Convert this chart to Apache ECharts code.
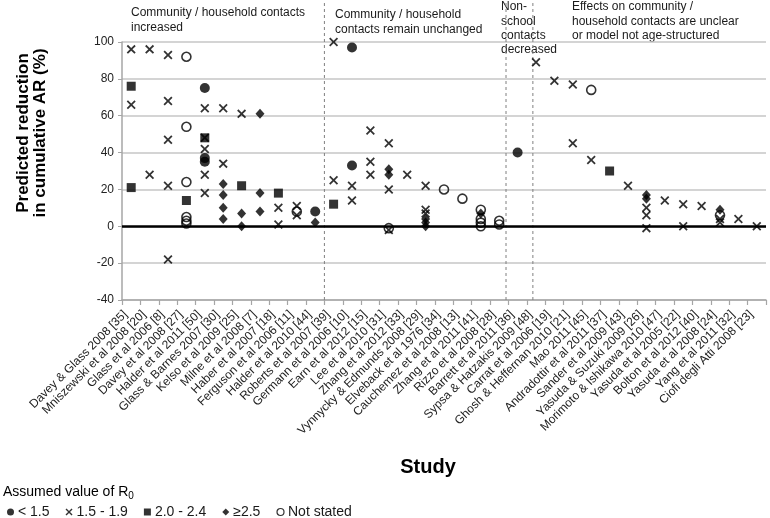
<!DOCTYPE html>
<html><head><meta charset="utf-8">
<script src="https://cdn.jsdelivr.net/npm/echarts@6/dist/echarts.min.js"></script>
<style>html,body{margin:0;padding:0;background:#fff}#c{width:770px;height:518px}</style>
</head><body><div id="c"></div>
<script>
// ---- categories (studies) ----
const studies = [
  'Davey & Glass 2008 [35]','Mniszewski et al 2008 [20]','Glass et al 2006 [8]','Davey et al 2008 [27]',
  'Halder et al 2011 [50]','Glass & Barnes 2007 [30]','Kelso et al 2009 [25]','Milne et al 2008 [7]',
  'Haber et al 2007 [18]','Ferguson et al 2006 [11]','Halder et al 2010 [44]','Roberts et al 2007 [39]',
  'Germann et al 2006 [10]','Earn et al 2012 [15]','Lee et al 2010 [31]','Zhang et al 2012 [33]',
  'Vynnycky & Edmunds 2008 [29]','Elveback et al 1976 [34]','Cauchemez et al 2008 [13]','Zhang et al 2011 [41]',
  'Rizzo et al 2008 [28]','Barrett et al 2011 [36]','Sypsa & Hatzakis 2009 [48]','Carrat et al 2006 [19]',
  'Ghosh & Heffernan 2010 [21]','Mao 2011 [45]','Andradottir et al 2011 [37]','Sander et al 2009 [43]',
  'Yasuda & Suzuki 2009 [26]','Morimoto & Ishikawa 2010 [47]','Yasuda et al 2005 [22]','Bolton et al 2012 [40]',
  'Yasuda et al 2008 [24]','Yang et al 2011 [32]','Ciofi degli Atti 2008 [23]'
];
// ---- series values: [study index, predicted reduction %] ----
const r0Below15 = [[4,75],[4,37],[4,35],[10,8],[12,97],[12,33],[21,40]];
const r0From15to19 = [
  [0,96],[0,66],[1,96],[1,28],[2,93],[2,68],[2,47],[2,22],[2,-18],
  [4,64],[4,48],[4,42],[4,28],[4,18],[5,64],[5,34],[6,61],[8,10],[8,1],[9,11],[9,6],
  [11,100],[11,25],[12,22],[12,14],[13,52],[13,35],[13,28],[14,45],[14,20],[14,-2],[15,28],
  [16,22],[16,9],[16,7],[22,89],[23,79],[24,77],[24,45],[25,36],[27,22],
  [28,10],[28,6],[28,-1],[29,14],[30,12],[30,0],[31,11],[32,4],[32,2],[33,4],[34,0]
];
const r0From20to24 = [[0,76],[0,21],[3,14],[4,48],[6,22],[8,18],[11,12],[26,30]];
const r0AtLeast25 = [[5,23],[5,17],[5,10],[5,4],[6,7],[6,0],[7,61],[7,18],[7,8],[10,2],
  [14,31],[14,28],[16,4],[16,2],[16,0],[19,7],[28,17],[28,15],[32,9]];
const r0NotStated = [[3,92],[3,54],[3,24],[3,5],[3,3],[3,1.5],[9,8],[14,-1],[17,20],[18,15],
  [19,9],[19,4],[19,2],[19,0],[20,3],[20,1],[25,74],[32,6]];
// ---- labels ----
const legendNames = ['< 1.5','1.5 - 1.9','2.0 - 2.4','\u22652.5','Not stated'];
const yTickMin = -40, yTickMax = 100, yTickStep = 20;
const groupTitles = [
  'Community / household contacts\nincreased',
  'Community / household\ncontacts remain unchanged',
  'Non-\nschool\ncontacts\ndecreased',
  'Effects on community /\nhousehold contacts are unclear\nor model not age-structured'
];
const groupDividers = [11, 20.87, 22.33];

const FONT = "'Liberation Sans', Arial, sans-serif";
const CROSS = 'path://M0,1.4L1.4,0L5,3.6L8.6,0L10,1.4L6.4,5L10,8.6L8.6,10L5,6.4L1.4,10L0,8.6L3.6,5Z';

const chart = echarts.init(document.getElementById('c'), null, {renderer:'canvas'});

const markerDefs = [
  {data:r0Below15, symbol:'circle', size:10, style:{color:'#000'}},
  {data:r0From15to19, symbol:CROSS, size:9, style:{color:'#000'}},
  {data:r0From20to24, symbol:'rect', size:9, style:{color:'#000'}},
  {data:r0AtLeast25, symbol:'diamond', size:[9,10], style:{color:'#000'}},
  {data:r0NotStated, symbol:'circle', size:9, style:{color:'rgba(255,255,255,0)', borderColor:'#000', borderWidth:1.6}}
];

const series = markerDefs.map((m,i)=>({
  type:'scatter', name:legendNames[i], xAxisIndex:0, yAxisIndex:0,
  symbol:m.symbol, symbolSize:m.size, itemStyle:m.style, z:5,
  data:m.data.map(d=>[d[0], d[1]])
}));
series[0].markLine = {
  silent:true, symbol:['none','none'], label:{show:false},
  lineStyle:{color:'#000', width:2.5, type:'solid'},
  data:[{yAxis:0}]
};
groupDividers.forEach(d=>{
  series.push({
    type:'line', xAxisIndex:1, yAxisIndex:0, clip:false, silent:true, symbol:'none', z:1,
    lineStyle:{color:'#808080', width:1, type:[3,3]},
    data:[[d, yTickMin],[d, 122]]
  });
});

const groupPos = [[131,6],[335,8],[501,0],[572,0]];
const graphic = groupTitles.map((t,i)=>({
  type:'text', x:groupPos[i][0], y:groupPos[i][1], silent:true,
  style:{text:t, font:'12px '+FONT, fill:'#1a1a1a', lineHeight:14.3}
}));
graphic.push({
  type:'text', x:32, y:133, rotation:Math.PI/2, silent:true,
  style:{text:'Predicted reduction\nin cumulative AR (%)', font:'bold 17px '+FONT, fill:'#000',
    align:'center', verticalAlign:'middle', lineHeight:17}
});
graphic.push({
  type:'text', x:428, y:467, silent:true,
  style:{text:'Study', font:'bold 20px '+FONT, fill:'#000', align:'center', verticalAlign:'middle'}
});
graphic.push({
  type:'text', x:3, y:483, silent:true,
  style:{text:'{a|Assumed value of R}{s|0}', rich:{
    a:{fontFamily:FONT, fontSize:14, color:'#1a1a1a'},
    s:{fontFamily:FONT, fontSize:10, color:'#1a1a1a', padding:[8,0,0,0]}
  }}
});

chart.setOption({
  animation:false,
  backgroundColor:'#fff',
  textStyle:{fontFamily:FONT},
  grid:{left:122, right:4, top:42, bottom:218},
  legend:{
    left:2, top:500, orient:'horizontal', itemWidth:7, itemHeight:7, itemGap:16,
    textStyle:{fontSize:14, color:'#1a1a1a', fontFamily:FONT, padding:[0,0,0,-1]},
    data:[
      {name:legendNames[0], icon:'circle'},
      {name:legendNames[1], icon:CROSS},
      {name:legendNames[2], icon:'rect'},
      {name:legendNames[3], icon:'diamond'},
      {name:legendNames[4], icon:'circle', itemStyle:{color:'#fff', borderColor:'#000', borderWidth:1.2}}
    ],
    selectedMode:false
  },
  xAxis:[{
    type:'category', data:studies, boundaryGap:true,
    axisLine:{onZero:false, lineStyle:{color:'#a6a6a6', width:1.5}},
    axisTick:{show:true, length:5, lineStyle:{color:'#a6a6a6', width:1.2}},
    axisLabel:{interval:0, rotate:45, fontSize:12, color:'#222', margin:7, padding:[0,8,0,0], fontFamily:FONT},
    splitLine:{show:false}
  },{
    type:'value', min:0, max:studies.length, show:false
  }],
  yAxis:{
    type:'value', min:yTickMin, max:yTickMax, interval:yTickStep,
    axisLine:{show:true, lineStyle:{color:'#a6a6a6', width:1.5}},
    axisTick:{show:true, length:4, lineStyle:{color:'#a6a6a6'}},
    axisLabel:{fontSize:12, color:'#222', margin:8, fontFamily:FONT},
    splitLine:{lineStyle:{color:'#c6c6c6', width:1.5}}
  },
  graphic:graphic,
  series:series
});
</script></body></html>
